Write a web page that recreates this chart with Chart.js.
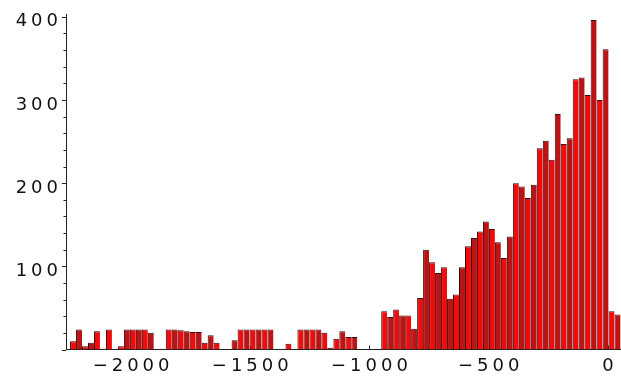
<!DOCTYPE html>
<html><head><meta charset="utf-8">
<script src="https://cdn.jsdelivr.net/npm/chart.js@4"></script>
<style>html,body{margin:0;padding:0;background:#fff;overflow:hidden}#wrap{width:621px;height:379px}</style>
</head><body><div id="wrap"><canvas id="c" width="621" height="379"></canvas></div>
<script>
// Histogram bins (left edge of first bin and bin width, in x units)
const binStart = -2256;
const binWidth = 25.1;
// Counts per bin, left to right
const counts = [
  10, 24, 4, 8, 22, 1, 24, 0, 4, 24,
  24, 24, 24, 20, 0, 1, 24, 24, 23, 22,
  21, 21, 8, 17, 8, 0, 0, 11, 24, 24,
  24, 24, 24, 24, 0, 0, 7, 0, 24, 24,
  24, 24, 20, 2, 13, 22, 15, 15, 0, 0,
  0, 0, 46, 39, 48, 41, 41, 25, 62, 120,
  105, 92, 99, 61, 66, 99, 124, 134, 142, 154,
  145, 129, 110, 136, 200, 196, 182, 198, 242, 251,
  228, 283, 247, 254, 325, 327, 306, 396, 300, 361,
  46, 42
];
const xTickValues = [-2000, -1500, -1000, -500, 0];
const yTickValues = [100, 200, 300, 400];
const yMinorStep = 20;
const xMin = -2273, xMax = 55;
const yMin = 0, yMax = 402.4;

const fmt = v => (v < 0 ? '\u2212' + String(-v) : String(v));

const tickPlugin = {
  id: 'tickMarks',
  beforeDatasetsDraw(chart) {
    const {ctx, chartArea} = chart;
    const x = chart.scales.x, y = chart.scales.y;
    ctx.save();
    ctx.strokeStyle = '#222';
    ctx.lineWidth = 1;
    ctx.beginPath();
    xTickValues.forEach(v => {
      const px = Math.round(x.getPixelForValue(v)) + 0.5;
      ctx.moveTo(px, chartArea.bottom);
      ctx.lineTo(px, chartArea.bottom - 4);
    });
    for (let v = yMin; v <= yTickValues[yTickValues.length - 1]; v += yMinorStep) {
      const py = Math.round(y.getPixelForValue(v)) + 0.5;
      const len = (v % 100 === 0) ? 4 : 2.5;
      ctx.moveTo(chartArea.left, py);
      ctx.lineTo(chartArea.left - len, py);
    }
    ctx.stroke();
    ctx.restore();
  }
};
const spacingPlugin = {
  id: 'spacing',
  beforeDraw(chart) { chart.ctx.letterSpacing = '4px'; },
  afterDraw(chart) { chart.ctx.letterSpacing = '0px'; }
};

const tickFont = {family: 'DejaVu Sans', size: 18};
new Chart(document.getElementById('c'), {
  type: 'bar',
  data: {
    datasets: [{
      data: counts.map((c, i) => ({x: binStart + binWidth * (i + 0.5), y: c})),
      backgroundColor: ctx => (ctx.dataIndex % 2 ? '#bb1414' : '#f00c0c'),
      borderColor: '#3a0808',
      borderWidth: {top: 1, left: 1, right: 0, bottom: 0},
      barPercentage: 1,
      categoryPercentage: 1,
      inflateAmount: 0
    }]
  },
  options: {
    responsive: false,
    animation: false,
    devicePixelRatio: 1,
    layout: {padding: {top: 13, left: 0, right: 0, bottom: 0}},
    plugins: {legend: {display: false}, tooltip: {enabled: false}},
    scales: {
      x: {
        type: 'linear', min: xMin, max: xMax, offset: false,
        afterBuildTicks: a => { a.ticks = xTickValues.map(v => ({value: v})); },
        afterFit: s => { s.height = 29.5; },
        grid: {display: false, drawTicks: false},
        border: {display: true, color: '#222', width: 1},
        ticks: {font: tickFont, color: '#111', padding: 6, labelOffset: 2, maxRotation: 0, autoSkip: false,
                callback: v => fmt(v)}
      },
      y: {
        type: 'linear', min: yMin, max: yMax,
        afterBuildTicks: a => { a.ticks = yTickValues.map(v => ({value: v})); },
        afterFit: s => { s.width = 66; },
        grid: {display: false, drawTicks: false},
        border: {display: true, color: '#222', width: 1},
        ticks: {font: tickFont, color: '#111', padding: 4, labelOffset: 5,
                callback: v => fmt(v)}
      }
    }
  },
  plugins: [tickPlugin, spacingPlugin]
});
</script>
</body></html>
